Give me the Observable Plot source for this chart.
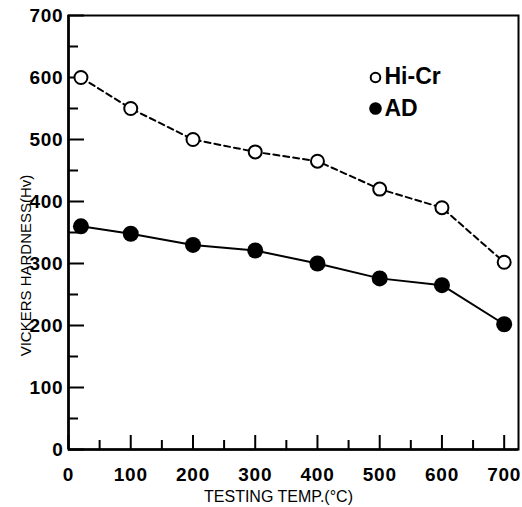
<!DOCTYPE html>
<html>
<head>
<meta charset="utf-8">
<script src="https://cdn.jsdelivr.net/npm/d3@7"></script>
<script src="https://cdn.jsdelivr.net/npm/@observablehq/plot@0.6"></script>
<style>
  html, body { margin: 0; padding: 0; background: white; }
</style>
</head>
<body>
<div id="chart"></div>
<script>
const temps = [20, 100, 200, 300, 400, 500, 600, 700];
const hiCr = [600, 550, 500, 480, 465, 420, 390, 302];
const ad = [360, 348, 330, 321, 300, 276, 265, 202];
const xMajor = [0, 100, 200, 300, 400, 500, 600, 700];
const xMinor = [50, 150, 250, 350, 450, 550, 650];
const yMajor = [0, 100, 200, 300, 400, 500, 600, 700];
const yMinor = [50, 150, 250, 350, 450, 550, 650];
const seriesNames = ["Hi-Cr", "AD"];
const xTitle = "TESTING TEMP.(°C)";
const yTitle = "VICKERS HARDNESS(Hv)";

const hiRows = temps.map((t, i) => ({t, v: hiCr[i]}));
const adRows = temps.map((t, i) => ({t, v: ad[i]}));

const W = 522, H = 507, mL = 68, mR = 4, mT = 15, mB = 58;
const pw = W - mL - mR, ph = H - mT - mB;
const xMax = 723, yMax = 700;
// tick lengths (pixels) converted to scale units
const xt = px => px * yMax / ph;  // vertical length for x ticks
const yt = px => px * xMax / pw;  // horizontal length for y ticks

const chart = Plot.plot({
  width: W, height: H,
  marginLeft: mL, marginRight: mR, marginTop: mT, marginBottom: mB,
  x: {domain: [0, xMax], label: null},
  y: {domain: [0, yMax], label: null},
  style: {fontFamily: "'Liberation Sans', Arial, sans-serif", background: "white", color: "black"},
  marks: [
    Plot.frame({stroke: "black", strokeWidth: 2}),
    Plot.ruleX([0], {stroke: "black", strokeWidth: 2.6}),
    Plot.ruleY([0], {stroke: "black", strokeWidth: 2.6}),
    Plot.ruleX(xMajor, {x: d => d, y1: 0, y2: xt(14), stroke: "black", strokeWidth: 2}),
    Plot.ruleX(xMinor, {x: d => d, y1: 0, y2: xt(9), stroke: "black", strokeWidth: 2}),
    Plot.ruleY(yMajor, {y: d => d, x1: 0, x2: yt(16), stroke: "black", strokeWidth: 2}),
    Plot.ruleY(yMinor, {y: d => d, x1: 0, x2: yt(10), stroke: "black", strokeWidth: 2}),
    Plot.axisX(xMajor, {tickSize: 0, tickPadding: 18, fontSize: 19, fontWeight: "bold", label: null}),
    Plot.axisY(yMajor, {tickSize: 0, tickPadding: 5, fontSize: 19, fontWeight: "bold", label: null}),
    Plot.line(hiRows, {x: "t", y: "v", stroke: "black", strokeWidth: 2, strokeDasharray: "6,4"}),
    Plot.line(adRows, {x: "t", y: "v", stroke: "black", strokeWidth: 2}),
    Plot.dot(hiRows, {x: "t", y: "v", r: 6.5, fill: "white", stroke: "black", strokeWidth: 2}),
    Plot.dot(adRows, {x: "t", y: "v", r: 8, fill: "black", stroke: "none"}),
    // legend
    Plot.dot([seriesNames[0]], {frameAnchor: "top-left", dx: 307, dy: 62, r: 4.8, fill: "white", stroke: "black", strokeWidth: 2}),
    Plot.dot([seriesNames[1]], {frameAnchor: "top-left", dx: 307, dy: 93, r: 6.3, fill: "black", stroke: "none"}),
    Plot.text([seriesNames[0]], {text: d => d, frameAnchor: "top-left", lineAnchor: "middle", dx: 316, dy: 61, textAnchor: "start", fontSize: 23, fontWeight: "bold", ariaLabel: "legend"}),
    Plot.text([seriesNames[1]], {text: d => d, frameAnchor: "top-left", lineAnchor: "middle", dx: 316, dy: 93, textAnchor: "start", fontSize: 23, fontWeight: "bold", ariaLabel: "legend"}),
    // axis titles
    Plot.text([xTitle], {text: d => d, frameAnchor: "bottom", lineAnchor: "middle", textAnchor: "middle", dx: -15, dy: 47, fontSize: 16, ariaLabel: "xtitle"}),
    Plot.text([yTitle], {text: d => d, frameAnchor: "left", lineAnchor: "middle", textAnchor: "middle", dx: -42, dy: 33, rotate: -90, fontSize: 15, ariaLabel: "ytitle"})
  ]
});
const s = d3.select(chart);
s.selectAll('g[aria-label="legend"] text').style("letter-spacing", "2.5px");
s.selectAll('g[aria-label="x-axis tick label"] text, g[aria-label="y-axis tick label"] text').style("letter-spacing", "0.8px");
s.selectAll('g[aria-label="xtitle"] text').style("letter-spacing", "0.6px");
document.getElementById("chart").appendChild(chart);
</script>
</body>
</html>
